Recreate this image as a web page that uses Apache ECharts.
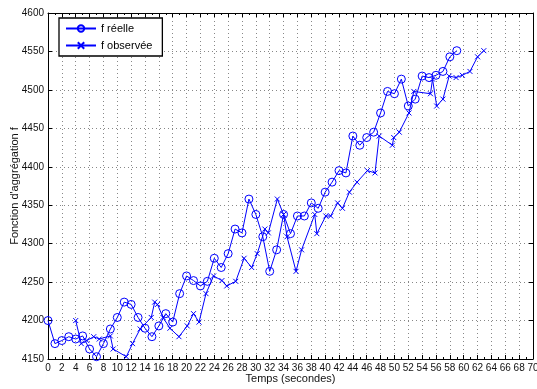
<!DOCTYPE html>
<html>
<head>
<meta charset="utf-8">
<script src="https://cdn.jsdelivr.net/npm/echarts@6/dist/echarts.min.js"></script>
<style>
  html, body { margin: 0; padding: 0; background: #fff; }
  #chart { width: 537px; height: 389px; }
</style>
</head>
<body>
<div id="chart"></div>
<script>
// === Données ===
const tempsReel = Array.from({ length: 60 }, (_, i) => i);
const valeursReelles = [
  4200, 4170, 4174, 4179, 4176, 4180, 4163, 4153, 4170, 4189,
  4204, 4224, 4221, 4204, 4190, 4179, 4193, 4209, 4198, 4235,
  4258, 4252, 4245, 4251, 4281, 4269, 4287, 4319, 4314, 4358,
  4338, 4309, 4264, 4292, 4338, 4313, 4336, 4336, 4353, 4346,
  4367, 4380, 4395, 4392, 4440, 4428, 4438, 4445, 4470, 4498,
  4495, 4514, 4479, 4488, 4518, 4516, 4519, 4524, 4543, 4551
];
const tempsObserve = [
  4.0, 4.8, 5.6, 6.6, 7.4, 9.0, 9.4, 11.3, 12.2, 13.3,
  14.9, 15.4, 15.8, 16.6, 17.6, 18.9, 20.1, 21.0, 21.8, 22.8,
  23.9, 25.1, 25.8, 27.1, 28.3, 29.4, 30.2, 31.3, 31.8, 33.1,
  34.0, 34.5, 35.8, 36.6, 38.5, 38.8, 40.1, 40.8, 41.8, 42.5,
  43.5, 44.6, 46.1, 47.2, 47.8, 49.7, 49.9, 50.7, 52.1, 52.8,
  55.2, 55.5, 56.1, 57.0, 57.9, 58.9, 59.8, 60.9, 62.0, 62.9
];
const valeursObservees = [
  4200, 4170, 4174, 4179, 4176, 4180, 4163, 4153, 4170, 4189,
  4204, 4224, 4221, 4204, 4190, 4179, 4193, 4209, 4198, 4235,
  4258, 4252, 4245, 4251, 4281, 4269, 4287, 4319, 4314, 4358,
  4338, 4309, 4264, 4292, 4338, 4313, 4336, 4336, 4353, 4346,
  4367, 4380, 4395, 4392, 4440, 4428, 4438, 4445, 4470, 4498,
  4495, 4514, 4479, 4488, 4518, 4516, 4519, 4524, 4543, 4551
];
const nomsSeries = ['f réelle', 'f observée'];

const bleu = '#0000ff';
const police = 'Liberation Sans, Arial, Helvetica, sans-serif';

const chart = echarts.init(document.getElementById('chart'));

const axeX = (pos, labels) => ({
  type: 'value', position: pos, min: 0, max: 70, interval: 2,
  axisLine: { show: true, onZero: false, lineStyle: { color: '#000', width: 1 } },
  axisTick: { show: true, inside: true, length: 4, lineStyle: { color: '#000' } },
  minorTick: { show: true, splitNumber: 2, length: 2, lineStyle: { color: '#000' } },
  axisLabel: { show: labels, margin: 4, fontSize: 10, color: '#111', fontFamily: police,
    formatter: v => String(v) },
  splitLine: { show: labels, lineStyle: { color: '#888', type: [1, 3], width: 1 } }
});
const axeY = (pos, labels) => ({
  type: 'value', position: pos, min: 4150, max: 4600, interval: 50,
  axisLine: { show: true, onZero: false, lineStyle: { color: '#000', width: 1 } },
  axisTick: { show: true, inside: true, length: 4, lineStyle: { color: '#000' } },
  axisLabel: { show: labels, margin: 4, fontSize: 10, color: '#111', fontFamily: police,
    formatter: v => String(v) },
  splitLine: { show: labels, lineStyle: { color: '#888', type: [1, 3], width: 1 } }
});

const xAxes = [axeX('bottom', true), axeX('top', false)];
xAxes[0].name = 'Temps (secondes)';
xAxes[0].nameLocation = 'middle';
xAxes[0].nameGap = 14;
xAxes[0].nameMoveOverlap = false;
xAxes[0].nameTextStyle = { fontSize: 11, color: '#111', fontFamily: police };
const yAxes = [axeY('left', true), axeY('right', false)];
yAxes[0].name = "Fonction d'aggrégation f";
yAxes[0].nameLocation = 'middle';
yAxes[0].nameGap = 28;
yAxes[0].nameMoveOverlap = false;
yAxes[0].nameTextStyle = { fontSize: 11, color: '#111', fontFamily: police };

const option = {
  animation: false,
  backgroundColor: '#fff',
  grid: { left: 48, right: 4, top: 13, bottom: 30, show: false,
    containLabel: false, outerBoundsMode: 'none' },
  legend: {
    orient: 'vertical', left: 59, top: 18,
    itemWidth: 30, itemHeight: 8, itemGap: 6,
    padding: [5, 10, 5, 6],
    borderColor: '#000', borderWidth: 1.3, backgroundColor: '#fff',
    textStyle: { fontSize: 11, color: '#000', fontFamily: police },
    data: nomsSeries
  },
  xAxis: xAxes,
  yAxis: yAxes,
  series: [
    {
      name: nomsSeries[0], type: 'line', xAxisIndex: 0, yAxisIndex: 0,
      data: tempsReel.map((t, i) => [t, valeursReelles[i]]),
      symbol: 'circle', symbolSize: 8,
      lineStyle: { color: bleu, width: 1 },
      itemStyle: { color: 'rgba(0,0,0,0)', borderColor: bleu, borderWidth: 1 }
    },
    {
      name: nomsSeries[1], type: 'line', xAxisIndex: 0, yAxisIndex: 0,
      data: tempsObserve.map((t, i) => [t, valeursObservees[i]]),
      symbol: 'path://M0,0L10,10M10,0L0,10', symbolSize: 5,
      lineStyle: { color: bleu, width: 1 },
      itemStyle: { color: 'rgba(0,0,0,0)', borderColor: bleu, borderWidth: 1 }
    }
  ]
};
chart.setOption(option);
</script>
</body>
</html>
